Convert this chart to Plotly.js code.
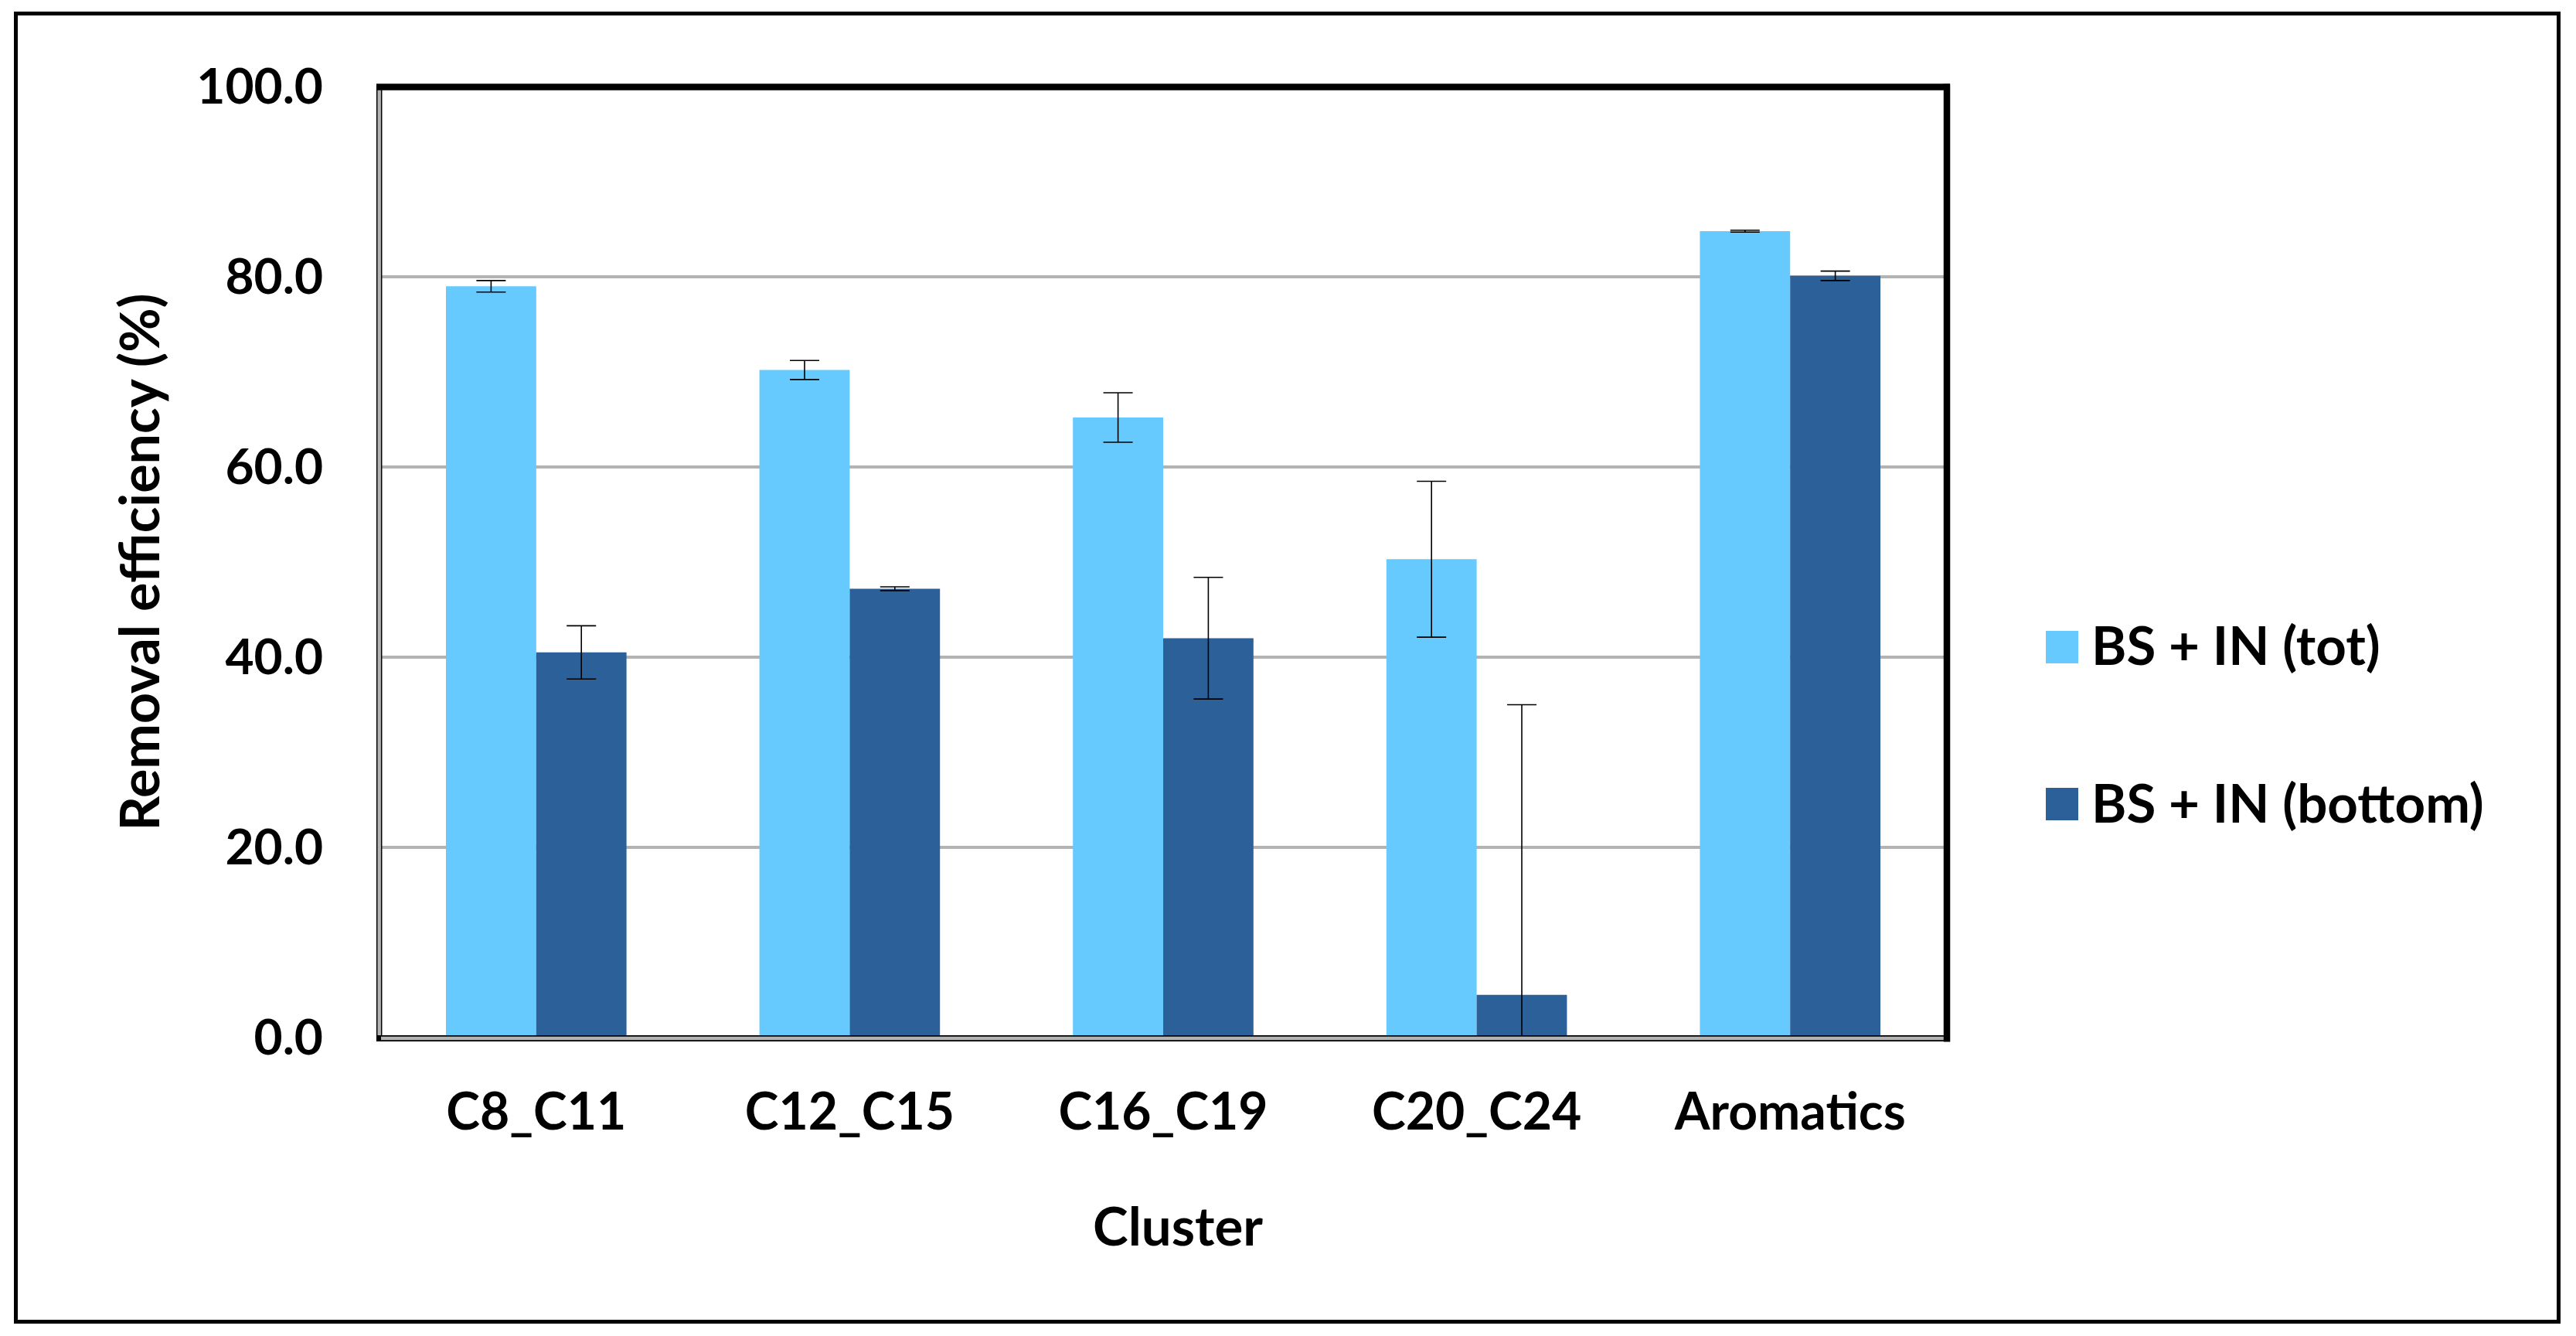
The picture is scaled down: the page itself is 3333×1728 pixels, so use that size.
<!DOCTYPE html>
<html>
<head>
<meta charset="utf-8">
<script src="https://cdn.plot.ly/plotly-3.0.1.min.js"></script>
<style>html,body{margin:0;padding:0;background:#fff;}#chart{width:3333px;height:1728px;}</style>
</head>
<body>
<div id="chart"></div>
<script>
// ---- data ----
const categories = ['C8_C11', 'C12_C15', 'C16_C19', 'C20_C24', 'Aromatics'];
const seriesNames = ['BS + IN (tot)', 'BS + IN (bottom)'];
const totValues = [79.0, 70.2, 65.2, 50.3, 84.8];
const totErrors = [0.6, 1.0, 2.6, 8.2, 0.1];
const bottomValues = [40.5, 47.2, 42.0, 4.5, 80.1];
const bottomErrors = [2.8, 0.2, 6.4, 30.5, 0.5];
const yTickValues = [0, 20, 40, 60, 80, 100];
const xTitle = 'Cluster';
const yTitle = 'Removal efficiency (%)';

// ---- styles ----
const W = 3333, H = 1728;
const L = 491, R = 2519, T = 112, B = 1342;
const FONT = 'Lato, "Noto Sans", sans-serif';
const colors = ['#66CAFF', '#2B6099'];
const px = v => (v - L) / (R - L);
const py = v => (B - v) / (B - T);

const errStyle = {type: 'data', symmetric: true, color: '#000', thickness: 1.6, width: 19};

const traces = [
  {type: 'bar', name: seriesNames[0], x: categories, y: totValues,
   marker: {color: colors[0], line: {width: 0}},
   error_y: Object.assign({array: totErrors}, errStyle)},
  {type: 'bar', name: seriesNames[1], x: categories, y: bottomValues,
   marker: {color: colors[1], line: {width: 0}},
   error_y: Object.assign({array: bottomErrors}, errStyle)}
];

const shapes = [
  // outer frame
  {type: 'rect', xref: 'paper', yref: 'paper', x0: px(20.5), x1: px(3310.5), y0: py(17.5), y1: py(1709.5),
   line: {color: '#000', width: 5}, fillcolor: 'rgba(0,0,0,0)', layer: 'above'},
  // left band (black outline + gray)
  {type: 'line', xref: 'paper', yref: 'paper', x0: px(490.7), x1: px(490.7), y0: py(110), y1: py(1347),
   line: {color: '#000', width: 7.5}, layer: 'above'},
  {type: 'line', xref: 'paper', yref: 'paper', x0: px(490.7), x1: px(490.7), y0: py(112), y1: py(1343),
   line: {color: '#b3b3b3', width: 4.5}, layer: 'above'},
  // bottom band
  {type: 'line', xref: 'paper', yref: 'paper', x0: px(487), x1: px(2521), y0: py(1343), y1: py(1343),
   line: {color: '#000', width: 8}, layer: 'above'},
  {type: 'line', xref: 'paper', yref: 'paper', x0: px(493), x1: px(2520), y0: py(1343), y1: py(1343),
   line: {color: '#b3b3b3', width: 4.5}, layer: 'above'},
  // top border
  {type: 'line', xref: 'paper', yref: 'paper', x0: px(487), x1: px(2523), y0: py(112.5), y1: py(112.5),
   line: {color: '#000', width: 8.5}, layer: 'above'},
  // right border
  {type: 'line', xref: 'paper', yref: 'paper', x0: px(2519), x1: px(2519), y0: py(108.5), y1: py(1347.5),
   line: {color: '#000', width: 8.5}, layer: 'above'},
  // legend swatches
  {type: 'rect', xref: 'paper', yref: 'paper', x0: px(2647), x1: px(2689), y0: py(816), y1: py(858),
   line: {width: 0}, fillcolor: colors[0]},
  {type: 'rect', xref: 'paper', yref: 'paper', x0: px(2647), x1: px(2689), y0: py(1019), y1: py(1061),
   line: {width: 0}, fillcolor: colors[1]}
];

const annotations = [
  {xref: 'paper', yref: 'paper', x: px(2704), y: py(834), xanchor: 'left', yanchor: 'middle',
   text: '<b>' + seriesNames[0] + '</b>', showarrow: false, font: {family: FONT, size: 69, color: '#000'}},
  {xref: 'paper', yref: 'paper', x: px(2704), y: py(1037), xanchor: 'left', yanchor: 'middle',
   text: '<b>' + seriesNames[1] + '</b>', showarrow: false, font: {family: FONT, size: 69, color: '#000'}},
  // x-axis title (offset slightly right of plot centre, as in the original)
  {xref: 'paper', yref: 'paper', x: px(1524), y: py(1584), xanchor: 'center', yanchor: 'middle',
   text: '<b>' + xTitle + '</b>', showarrow: false, font: {family: FONT, size: 69, color: '#000'}}
];

const layout = {
  width: W, height: H,
  margin: {l: L, r: W - R, t: T, b: H - B, pad: 0},
  paper_bgcolor: '#fff', plot_bgcolor: '#fff',
  showlegend: false,
  barmode: 'group', bargap: 0.424, bargroupgap: 0,
  font: {family: FONT, size: 64, color: '#000'},
  xaxis: {
    type: 'category', showgrid: false, zeroline: false, showline: false, ticks: '',
    ticklabelstandoff: 52,
    tickfont: {family: FONT, size: 66, color: '#000', weight: 'bold'},
    automargin: false
  },
  yaxis: {
    range: [0, 100], tickvals: yTickValues, tickformat: '.1f',
    showgrid: true, gridcolor: '#b3b3b3', gridwidth: 4.5,
    zeroline: false, showline: false, ticks: '',
    ticklabelstandoff: 72,
    tickfont: {family: FONT, size: 64, color: '#000', weight: 'bold'},
    title: {text: '<b>' + yTitle + '</b>', standoff: 24, font: {family: FONT, size: 70, color: '#000'}},
    automargin: false
  },
  shapes: shapes,
  annotations: annotations
};

Plotly.newPlot('chart', traces, layout, {displayModeBar: false, staticPlot: true});
</script>
</body>
</html>
